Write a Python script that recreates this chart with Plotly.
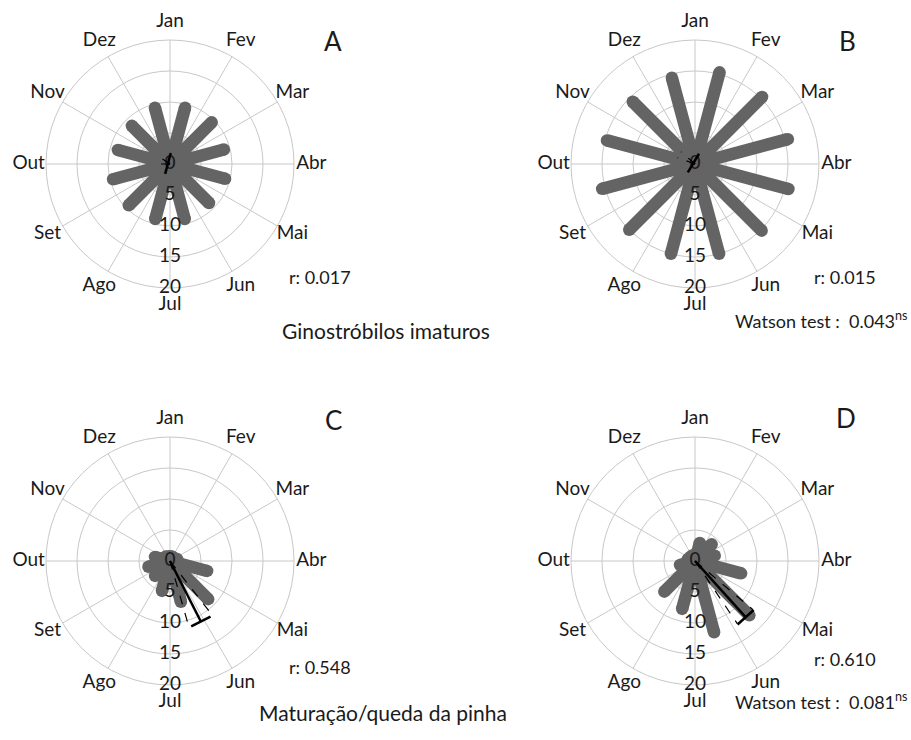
import math
import plotly.graph_objects as go

# ---- data -------------------------------------------------------------
months = ["Jan", "Fev", "Mar", "Abr", "Mai", "Jun",
          "Jul", "Ago", "Set", "Out", "Nov", "Dez"]
month_starts = [0, 30, 60, 90, 120, 150, 180, 210, 240, 270, 300, 330]
month_centres = [15, 45, 75, 105, 135, 165, 195, 225, 255, 285, 315, 345]
radial_ticks = [0, 5, 10, 15, 20]

# monthly frequencies per panel (Jan..Dez)
freq_a = [9.4, 9.5, 9.0, 9.2, 8.9, 9.2, 9.2, 9.4, 9.5, 8.7, 8.7, 9.4]
freq_b = [15.3, 15.3, 15.5, 15.6, 15.2, 15.0, 15.0, 15.0, 15.5, 14.7, 14.2, 14.4]
freq_c = [0.8, 0.8, 1.2, 6.2, 8.7, 6.8, 5.0, 3.4, 3.6, 2.5, 1.0, 0.8]
freq_d = [3.0, 3.8, 3.3, 7.7, 12.4, 11.9, 8.0, 7.0, 2.5, 1.2, 1.0, 1.0]

# mean direction (deg), mean resultant length, confidence limits (deg)
mean_dir = [285, 301, 153, 138]
mean_r = [0.017, 0.015, 0.548, 0.610]
ci_low = [270, 290, 142, 130]
ci_high = [304, 311, 164, 146]
ci_len = [2.8, 3.0, 10.96, 12.2]

panel_letters = ["A", "B", "C", "D"]
r_labels = ["r: 0.017", "r: 0.015", "r: 0.548", "r: 0.610"]
watson = {1: "0.043", 3: "0.081"}
titles = ["Ginostróbilos imaturos", "Maturação/queda da pinha"]

# ---- layout helpers ---------------------------------------------------
W, H = 911, 740
FONT = "Lato"
INK = "#1a1a1a"
BAR = "#646464"
GRID = "#c8c8c8"
BAR_W = 12.5
R_MAX = 20          # outer ring of the dial
R_VIEW = 24         # extra room so the month names fit inside the subplot
LABEL_R = 22.8      # month names sit on a ring just outside the dial
TBAR_HALF = 1.75


def px(x, y):
    return x / W, 1 - y / H


centres = [(170, 164), (695, 164), (170, 561), (695, 561)]
DIAL_PX = 124                       # pixels for R_MAX
VIEW_PX = DIAL_PX * R_VIEW / R_MAX  # pixels for R_VIEW

fig = go.Figure()
freqs = [freq_a, freq_b, freq_c, freq_d]

for k in range(4):
    sub = "polar" if k == 0 else f"polar{k + 1}"

    # spokes of the dial, one per month boundary
    gr, gt = [], []
    for ang in month_starts:
        gr += [0, R_MAX, None]
        gt += [ang, ang, None]
    fig.add_trace(go.Scatterpolar(
        r=gr, theta=gt, mode="lines", subplot=sub,
        line=dict(color=GRID, width=1),
        hoverinfo="skip", showlegend=False))

    # thick spokes
    rr, tt = [], []
    for ang, v in zip(month_centres, freqs[k]):
        rr += [0, v, None]
        tt += [ang, ang, None]
    fig.add_trace(go.Scatterpolar(
        r=rr, theta=tt, mode="lines", subplot=sub,
        line=dict(color=BAR, width=BAR_W),
        hoverinfo="skip", showlegend=False))
    # rounded tips
    fig.add_trace(go.Scatterpolar(
        r=freqs[k], theta=month_centres, mode="markers", subplot=sub,
        marker=dict(color=BAR, size=BAR_W, opacity=1,
                    line=dict(color=BAR, width=0)),
        hoverinfo="skip", showlegend=False))

    # radial scale labels along the July direction
    fig.add_trace(go.Scatterpolar(
        r=radial_ticks, theta=[180] * len(radial_ticks), mode="text",
        text=[str(t) for t in radial_ticks], textposition="middle center",
        textfont=dict(family=FONT, size=19, color=INK), subplot=sub,
        hoverinfo="skip", showlegend=False))

    # month names around the dial
    fig.add_trace(go.Scatterpolar(
        r=[LABEL_R] * len(months), theta=month_starts, mode="text",
        text=months, textposition="middle center", cliponaxis=False,
        textfont=dict(family=FONT, size=19, color=INK), subplot=sub,
        hoverinfo="skip", showlegend=False))

    # confidence limits
    for ang in (ci_low[k], ci_high[k]):
        fig.add_trace(go.Scatterpolar(
            r=[0, ci_len[k]], theta=[ang, ang], mode="lines", subplot=sub,
            line=dict(color="black", width=1.2, dash="dash"),
            hoverinfo="skip", showlegend=False))

    # mean vector with flat head
    L = mean_r[k] * R_MAX
    fig.add_trace(go.Scatterpolar(
        r=[0, L], theta=[mean_dir[k], mean_dir[k]], mode="lines", subplot=sub,
        line=dict(color="black", width=2.5),
        hoverinfo="skip", showlegend=False))
    rho = math.hypot(L, TBAR_HALF)
    off = math.degrees(math.atan2(TBAR_HALF, L))
    fig.add_trace(go.Scatterpolar(
        r=[rho, rho], theta=[mean_dir[k] - off, mean_dir[k] + off],
        mode="lines", subplot=sub,
        line=dict(color="black", width=2.5),
        hoverinfo="skip", showlegend=False))

    cx, cy = centres[k]
    x0, y0 = px(cx - VIEW_PX, cy + VIEW_PX)
    x1, y1 = px(cx + VIEW_PX, cy - VIEW_PX)
    fig.update_layout({sub: dict(
        domain=dict(x=[x0, x1], y=[y0, y1]),
        bgcolor="rgba(0,0,0,0)",
        radialaxis=dict(range=[0, R_VIEW], tickvals=radial_ticks[1:],
                        showticklabels=False, ticks="", showline=False,
                        gridcolor=GRID, gridwidth=1),
        angularaxis=dict(rotation=90, direction="clockwise",
                         showticklabels=False, ticks="", showgrid=False,
                         showline=False),
    )})

annotations = []
letter_pos = [(333, 23), (858, 23), (333, 420), (858, 418)]
for k, (x, y) in enumerate(letter_pos):
    ax, ay = px(x, y)
    annotations.append(dict(x=ax, y=ay, xref="paper", yref="paper",
                            text=panel_letters[k], showarrow=False,
                            font=dict(family=FONT, size=26, color=INK)))

rlab_pos = [(287, 277), (812, 277), (287, 680), (812, 672)]
for k, (x, y) in enumerate(rlab_pos):
    ax, ay = px(x, y)
    annotations.append(dict(x=ax, y=ay, xref="paper", yref="paper",
                            xanchor="left", text=r_labels[k], showarrow=False,
                            font=dict(family=FONT, size=18, color=INK)))

watson_pos = {1: (910, 320), 3: (910, 715)}
for k, val in watson.items():
    ax, ay = px(*watson_pos[k])
    annotations.append(dict(x=ax, y=ay, xref="paper", yref="paper",
                            xanchor="right",
                            text=f"Watson test :  {val}<sup>ns</sup>",
                            showarrow=False,
                            font=dict(family=FONT, size=18, color=INK)))

title_pos = [(386, 330), (383, 727)]
for t, (x, y) in zip(titles, title_pos):
    ax, ay = px(x, y)
    annotations.append(dict(x=ax, y=ay, xref="paper", yref="paper",
                            text=t, showarrow=False,
                            font=dict(family=FONT, size=21, color=INK)))

fig.update_layout(
    width=W, height=H,
    margin=dict(l=0, r=0, t=0, b=0),
    paper_bgcolor="white",
    showlegend=False,
    annotations=annotations,
)

fig.write_html("out.html", config={"displayModeBar": False})
